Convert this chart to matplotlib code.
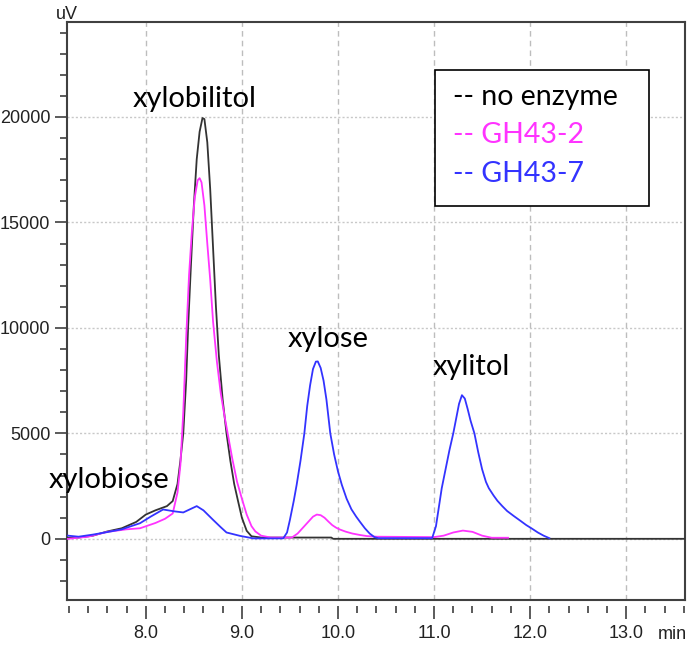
import matplotlib.pyplot as plt
from matplotlib.patches import Rectangle
from matplotlib.ticker import MultipleLocator

# retention time (min) and detector signal (uV) for each run
t_none = [7.19, 7.3, 7.45, 7.6, 7.75, 7.9, 8.0, 8.1, 8.22, 8.28, 8.33, 8.36, 8.39,
          8.42, 8.44, 8.47, 8.50, 8.53, 8.56, 8.59, 8.61, 8.64, 8.67, 8.70, 8.73,
          8.76, 8.80, 8.84, 8.88, 8.92, 8.96, 9.00, 9.05, 9.10, 9.2, 9.5, 9.93,
          9.95, 13.61]
v_none = [50, 60, 150, 350, 500, 800, 1150, 1350, 1550, 1790, 2600, 3700, 5000,
          7500, 10000, 13000, 15800, 18000, 19300, 19950, 19900, 18800, 16600, 13800, 11000,
          8700, 6600, 5000, 3700, 2600, 1790, 1000, 380, 120, 60, 60, 60,
          0, 0]

t_gh2 = [7.19, 7.4, 7.6, 7.8, 7.94, 8.1, 8.2, 8.28, 8.33, 8.36, 8.39, 8.42, 8.45,
         8.48, 8.51, 8.54, 8.56, 8.58, 8.61, 8.64, 8.67, 8.70, 8.74, 8.78, 8.82,
         8.86, 8.90, 8.95, 9.00, 9.05, 9.10, 9.14, 9.2, 9.3, 9.52, 9.58, 9.64,
         9.70, 9.74, 9.78, 9.82, 9.86, 9.90, 9.94, 9.98, 10.02, 10.08, 10.15, 10.23,
         10.3, 10.4, 11.0, 11.1, 11.2, 11.3, 11.4, 11.5, 11.6, 11.77]
v_gh2 = [0, 100, 330, 450, 500, 750, 950, 1200, 2200, 3500, 6000, 9500, 12500,
         14600, 16200, 17000, 17100, 16900, 15800, 14000, 12300, 10300, 8400, 6900, 5800,
         4800, 3800, 2700, 1900, 1150, 600, 350, 150, 60, 60, 250, 550,
         850, 1050, 1150, 1120, 1000, 820, 650, 530, 440, 340, 250, 180,
         130, 100, 80, 150, 300, 390, 330, 150, 50, 50]

t_gh7 = [7.19, 7.3, 7.45, 7.6, 7.75, 7.94, 8.05, 8.18, 8.3, 8.39, 8.46, 8.53, 8.6,
         8.7, 8.78, 8.84, 8.98, 9.12, 9.43, 9.47, 9.50, 9.54, 9.57, 9.61, 9.65,
         9.68, 9.71, 9.74, 9.77, 9.79, 9.82, 9.85, 9.88, 9.92, 9.96, 10.00, 10.04,
         10.09, 10.14, 10.19, 10.23, 10.28, 10.33, 10.38, 10.42, 10.98, 11.02, 11.05,
         11.08, 11.12, 11.16, 11.20, 11.23, 11.26, 11.29, 11.32, 11.35, 11.38, 11.42,
         11.46, 11.50, 11.54, 11.57, 11.62, 11.66, 11.71, 11.76, 11.83, 11.90, 11.96,
         12.02, 12.08, 12.14, 12.2]
v_gh7 = [150, 100, 200, 320, 450, 740, 1050, 1390, 1300, 1250, 1400, 1550, 1350,
         900, 550, 300, 140, 20, 20, 300, 900, 1800, 2560, 3700, 5000,
         6300, 7280, 8050, 8400, 8410, 8100, 7500, 6600, 5000, 4000, 3200, 2560,
         1900, 1400, 1050, 800, 500, 250, 80, 30, 30, 600, 1500,
         2400, 3300, 4200, 5000, 5700, 6400, 6810, 6650, 6150, 5600, 5000,
         4100, 3300, 2700, 2400, 2050, 1800, 1550, 1320, 1080, 850, 650,
         480, 300, 150, 30]

peak_names = ['xylobiose', 'xylobilitol', 'xylose', 'xylitol']
peak_x = [6.99, 8.51, 9.90, 11.39]
peak_y = [2400, 20470, 9100, 7780]

legend_labels = ['-- no enzyme', '-- GH43-2', '-- GH43-7']
line_colors = ['#333333', '#ff33ff', '#3333ff']
text_colors = ['black', '#ff33ff', '#3333ff']

tick_font = 'Liberation Sans'
label_font = 'Lato'

fig = plt.figure(figsize=(6.88, 6.45), dpi=100)
ax = fig.add_axes([0.0974, 0.0698, 0.898, 0.896])

ax.plot(t_none, v_none, color=line_colors[0], lw=1.3, zorder=3)
ax.plot(t_gh2, v_gh2, color=line_colors[1], lw=1.3, zorder=4)
ax.plot(t_gh7, v_gh7, color=line_colors[2], lw=1.3, zorder=5)

ax.set_xlim(7.18, 13.61)
ax.set_ylim(-2900, 24500)

ax.xaxis.set_minor_locator(MultipleLocator(0.2))
ax.yaxis.set_major_locator(MultipleLocator(5000))
ax.yaxis.set_minor_locator(MultipleLocator(1000))
ax.set_xticks([8, 9, 10, 11, 12, 13])
ax.set_xticklabels(['8.0', '9.0', '10.0', '11.0', '12.0', '13.0'])

ax.grid(axis='x', which='major', color='#bdbdbd', ls=(0, (4, 3)), lw=1.0)
ax.grid(axis='y', which='major', color='#c8c8c8', ls=(0, (1.5, 1.5)), lw=1.0)

# ticks below the frame sit a little apart from it
ax.spines['bottom'].set_position(('outward', 4))
ax.spines['bottom'].set_visible(False)
ax.plot([0, 1], [0, 0], transform=ax.transAxes, color='#404040', lw=1.5, clip_on=False)
for side in ['top', 'left', 'right']:
    ax.spines[side].set_color('#404040')
    ax.spines[side].set_linewidth(1.5)

ax.tick_params(axis='both', which='major', length=9, width=1.2, color='#404040')
ax.tick_params(axis='both', which='minor', length=5, width=1.2, color='#404040')
ax.tick_params(axis='x', which='major', pad=5)
ax.tick_params(axis='y', which='major', pad=3)
for lab in ax.get_xticklabels() + ax.get_yticklabels():
    lab.set_family(tick_font)
    lab.set_fontsize(13)
    lab.set_color('#222222')

fig.text(56 / 688, 1 - 19 / 645, 'uV', family=tick_font, fontsize=13, color='#222222')
fig.text(658 / 688, 1 - 639 / 645, 'min', family=tick_font, fontsize=13, color='#222222')

for name, x, y in zip(peak_names, peak_x, peak_y):
    ha = 'left' if name == 'xylobiose' else 'center'
    ax.text(x, y, name, ha=ha, va='baseline', family=label_font, fontsize=21,
            color='black', clip_on=False, zorder=6)

# legend box drawn by hand
ax.add_patch(Rectangle((0.595, 0.682), 0.347, 0.235, transform=ax.transAxes,
                       facecolor='white', edgecolor='black', lw=1.2, zorder=7))
for i, (lab, c) in enumerate(zip(legend_labels, text_colors)):
    ax.text(0.624, 0.856 - i * 0.066, lab, transform=ax.transAxes, color=c,
            family=label_font, fontsize=20.5, va='baseline', zorder=8)

plt.savefig('out.png')
plt.close()
